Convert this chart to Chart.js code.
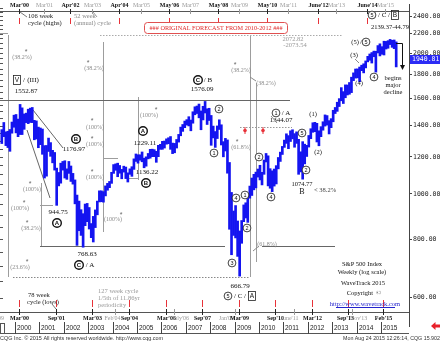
<!DOCTYPE html>
<html>
<head>
<meta charset="utf-8">
<script src="https://cdn.jsdelivr.net/npm/chart.js@4.4.0/dist/chart.umd.min.js"></script>
<style>
html, body { margin: 0; padding: 0; background: #fff; overflow: hidden; }
</style>
</head>
<body>
<canvas id="spx" width="440" height="342"></canvas>
<script>
// S&P 500 weekly, shown as monthly high/low ranges
const startYear = 1999;
const startMonth = 6; // June 1999

const monthLow = [
  1281, 1325, 1268, 1256, 1233, 1348, 1388,
  1350, 1325, 1339, 1339, 1374, 1420, 1413, 1421, 1420, 1305, 1310, 1255,
  1274, 1215, 1081, 1091, 1232, 1203, 1165, 1124, 945, 1040, 1054, 1124,
  1081, 1074, 1106, 1063, 1049, 952, 776, 834, 815, 769, 855, 872,
  841, 806, 789, 847, 902, 961, 962, 960, 990, 1018, 1031, 1053,
  1106, 1123, 1088, 1107, 1077, 1113, 1078, 1060, 1101, 1090, 1128, 1173,
  1163, 1180, 1171, 1137, 1146, 1188, 1192, 1201, 1201, 1168, 1201, 1245,
  1245, 1253, 1277, 1280, 1245, 1219, 1224, 1253, 1290, 1331, 1360, 1385,
  1403, 1397, 1364, 1416, 1476, 1485, 1454, 1371, 1439, 1489, 1407, 1435,
  1270, 1317, 1257, 1313, 1373, 1272, 1200, 1235, 1107, 840, 741, 815,
  805, 735, 667, 784, 872, 888, 869, 979, 992, 1020, 1030, 1086,
  1071, 1045, 1101, 1170, 1040, 1028, 1011, 1039, 1050, 1131, 1173, 1214,
  1257, 1282, 1249, 1294, 1311, 1258, 1282, 1101, 1114, 1075, 1159, 1202,
  1259, 1312, 1354, 1358, 1291, 1267, 1325, 1368, 1396, 1403, 1343, 1385,
  1426, 1485, 1501, 1537, 1581, 1560, 1605, 1627, 1633, 1646, 1746, 1768,
  1770, 1737, 1834, 1814, 1859, 1915, 1930, 1904, 1964, 1821, 2001, 1972,
  1988, 1981, 2040, 2048, 2085, 2057, 2044, 1868
];
const monthHigh = [
  1372, 1421, 1357, 1361, 1373, 1424, 1473,
  1478, 1445, 1553, 1527, 1482, 1488, 1517, 1525, 1530, 1436, 1432, 1389,
  1383, 1376, 1268, 1269, 1316, 1287, 1239, 1226, 1135, 1111, 1163, 1173,
  1177, 1131, 1173, 1147, 1106, 1071, 994, 965, 925, 907, 951, 954,
  935, 864, 895, 924, 965, 1015, 1015, 1011, 1040, 1053, 1063, 1112,
  1155, 1159, 1163, 1150, 1128, 1146, 1141, 1109, 1131, 1143, 1188, 1217,
  1212, 1212, 1229, 1192, 1200, 1220, 1245, 1246, 1243, 1233, 1270, 1276,
  1295, 1297, 1311, 1318, 1326, 1284, 1282, 1307, 1340, 1389, 1407, 1431,
  1441, 1462, 1438, 1498, 1535, 1541, 1556, 1504, 1539, 1576, 1520, 1524,
  1471, 1396, 1359, 1397, 1440, 1405, 1293, 1314, 1304, 1167, 1007, 919,
  944, 875, 833, 877, 947, 957, 996, 1039, 1081, 1101, 1113, 1130,
  1151, 1112, 1181, 1220, 1206, 1132, 1120, 1130, 1149, 1196, 1228, 1263,
  1303, 1344, 1332, 1364, 1371, 1345, 1357, 1308, 1230, 1293, 1277, 1270,
  1333, 1378, 1419, 1422, 1415, 1364, 1392, 1426, 1475, 1470, 1434, 1448,
  1509, 1530, 1570, 1598, 1687, 1654, 1710, 1709, 1730, 1776, 1814, 1849,
  1850, 1867, 1884, 1897, 1924, 1968, 1991, 2005, 2019, 2018, 2075, 2093,
  2064, 2120, 2118, 2126, 2139, 2130, 2133, 2113
];
const lastClose = 1940.81;

const priceTicks = [600, 800, 1000, 1200, 1400, 1600, 1800, 2000, 2200, 2400];
const yearLabels = [2000, 2001, 2002, 2003, 2004, 2005, 2006, 2007, 2008, 2009, 2010, 2011, 2012, 2013, 2014, 2015];

// cycle dates along the top (highs) and bottom (lows); main = red marker
const topCycleDates = [2000.17, 2001.17, 2002.25, 2003.17, 2004.25, 2005.17, 2006.33, 2007.17, 2008.33, 2009.17, 2010.33, 2011.17, 2012.42, 2013.17, 2014.42, 2015.17];
const topCycleLabels = ["Mar'00", "Mar'01", "Apr'02", "Mar'03", "Apr'04", "Mar'05", "May'06", "Mar'07", "May'08", "Mar'09", "May'10", "Mar'11", "June'12", "Mar'13", "June'14", "Mar'15"];
const topCycleMain = [1, 0, 1, 0, 1, 0, 1, 0, 1, 0, 1, 0, 1, 0, 1, 0];

const bottomCycleDates = [1999.17, 2000.17, 2001.67, 2003.17, 2004.08, 2004.67, 2006.17, 2006.5, 2007.67, 2009.0, 2009.17, 2010.67, 2011.42, 2012.17, 2013.67, 2013.83, 2015.08];
const bottomCycleLabels = ["Mar'99", "Mar'00", "Sep'01", "Mar'03", "Feb'04", "Sep'04", "Mar'06", "July'06", "Sep'07", "Jan'09", "Mar'09", "Sep'10", "June'11", "Mar'12", "Sep'13", "Nov'13", "Feb'15"];
const bottomCycleMain = [0, 1, 1, 1, 0, 1, 1, 0, 1, 0, 1, 1, 0, 1, 1, 0, 1];

const bars = monthLow.map((lo, i) => ({
  x: startYear + (startMonth - 1 + i + 0.5) / 12,
  y: [lo, monthHigh[i]]
}));

const SERIF = '"Liberation Serif", "DejaVu Serif", serif';
const SANS = '"Liberation Sans", Arial, sans-serif';
const MONO = '"DejaVu Sans Mono", monospace';

function txt(ctx, s, x, y, size, color, align, fam, weight) {
  ctx.font = (weight || 'normal') + ' ' + size + 'px ' + (fam || SERIF);
  ctx.fillStyle = color || '#111';
  ctx.textAlign = align || 'center';
  ctx.textBaseline = 'middle';
  ctx.fillText(s, x, y);
}

function fitText(ctx, s, x, y, w, size, color, align, fam, weight) {
  ctx.font = (weight || 'normal') + ' ' + size + 'px ' + (fam || SERIF);
  const m = ctx.measureText(s).width;
  ctx.save();
  ctx.translate(x, y);
  ctx.scale(w / m, 1);
  ctx.fillStyle = color || '#111';
  ctx.textAlign = align || 'center';
  ctx.textBaseline = 'middle';
  ctx.fillText(s, 0, 0);
  ctx.restore();
}

function line(ctx, x1, y1, x2, y2, color, w, dash) {
  ctx.save();
  ctx.beginPath();
  ctx.strokeStyle = color;
  ctx.lineWidth = w || 1;
  ctx.setLineDash(dash || []);
  ctx.moveTo(x1, y1);
  ctx.lineTo(x2, y2);
  ctx.stroke();
  ctx.restore();
}

function circ(ctx, x, y, s, bold) {
  ctx.beginPath();
  ctx.arc(x, y, bold ? 4.3 : 3.9, 0, Math.PI * 2);
  ctx.fillStyle = '#fff';
  ctx.fill();
  ctx.lineWidth = bold ? 1.4 : 0.8;
  ctx.strokeStyle = '#111';
  ctx.stroke();
  txt(ctx, s, x, y + 0.4, bold ? 6 : 5.5, '#111', 'center', SANS, bold ? 'bold' : 'normal');
}

function boxed(ctx, x, y, s) {
  ctx.lineWidth = 0.8;
  ctx.strokeStyle = '#222';
  ctx.strokeRect(x - 3.5, y - 4.5, 7, 9);
  txt(ctx, s, x, y + 0.3, 6.5, '#111', 'center', SANS);
}

const overlay = {
  id: 'overlay',
  beforeDatasetsDraw(chart) {
    const ctx = chart.ctx;
    const ys = chart.scales.y;
    const G = '#9d9d9d', D = '#666';
    // left edge ruler
    for (let p = 600; p <= 2500; p += 50) {
      const y = Math.round(ys.getPixelForValue(p)) + 0.5;
      line(ctx, 0, y, 3, y, '#555', 1);
    }
    // vertical guide lines
    line(ctx, 8.5, 35, 8.5, 277, G);
    line(ctx, 41.5, 183, 41.5, 246, G);
    line(ctx, 103.5, 42, 103.5, 232, G);
    line(ctx, 138.5, 97, 138.5, 180, G);
    line(ctx, 250.5, 35, 250.5, 277, G);
    line(ctx, 256.5, 83, 256.5, 262, G);
    // horizontal level lines
    line(ctx, 0, 100.5, 290, 100.5, D);
    line(ctx, 40, 246.5, 225, 246.5, D);
    line(ctx, 262, 246.5, 335, 246.5, D);
    line(ctx, 13, 277.5, 250, 277.5, '#888', 1, [1.5, 1.5]);
    line(ctx, 100, 35.5, 343, 35.5, '#aaa', 1, [1.5, 1.5]);
    line(ctx, 240, 127.5, 292, 127.5, '#999', 1, [1.5, 1.5]);
    line(ctx, 0, 33.5, 8, 33.5, G);
    line(ctx, 103, 158.5, 118, 158.5, G);
    line(ctx, 128, 178.5, 138, 178.5, G);
    line(ctx, 40, 205.5, 53, 205.5, G);
    // diagonals from the 2000 top
    line(ctx, 33, 110, 63, 148, D);
    line(ctx, 27, 130, 50, 198, D);
  },
  afterDraw(chart) {
    const ctx = chart.ctx;
    const xs = chart.scales.x, ys = chart.scales.y;
    const area = chart.chartArea;
    const G = '#8a8a8a';

    // ---- top cycle strip
    line(ctx, 0, 11.5, area.right, 11.5, '#555');
    topCycleDates.forEach((t, i) => {
      const x = Math.round(xs.getPixelForValue(t)) + 0.5;
      const main = topCycleMain[i];
      line(ctx, x, 9, x, 14, main ? '#222' : '#999');
      txt(ctx, topCycleLabels[i], x, 5.5, 6, main ? '#111' : '#999', 'center', SERIF, main ? 'bold' : 'normal');
      if (main) line(ctx, x, 18, x, 24, '#e8333a', 1);
    });
    line(ctx, 20, 12, 27, 17, '#777');
    line(ctx, 93, 12, 97, 17, '#999');
    txt(ctx, '106 week', 28, 16.5, 6.5, '#222', 'left');
    txt(ctx, 'cycle (highs)', 28, 23.5, 6.5, '#222', 'left');
    txt(ctx, '52 week', 74, 16.5, 6.5, '#888', 'left');
    txt(ctx, '(annual) cycle', 74, 23.5, 6.5, '#888', 'left');

    // red forecast box
    ctx.beginPath();
    ctx.roundRect(144.5, 22.5, 143, 11, 3);
    ctx.fillStyle = '#fff';
    ctx.fill();
    ctx.lineWidth = 1;
    ctx.strokeStyle = '#e05050';
    ctx.stroke();
    fitText(ctx, '### ORIGINAL FORECAST FROM 2010-2012 ###', 216, 28.3, 133, 6.5, '#e02a2a', 'center', SERIF);

    // ---- bottom cycle strip
    line(ctx, 0, area.bottom + 0.5, area.right, area.bottom + 0.5, '#555');
    const shift = { "Feb'04": -3, "July'06": 6, "Jan'09": -9, "June'11": -5, "Sep'13": -3, "Nov'13": 6 };
    bottomCycleDates.forEach((t, i) => {
      const x = Math.round(xs.getPixelForValue(t)) + 0.5;
      const main = bottomCycleMain[i];
      const lab = bottomCycleLabels[i];
      line(ctx, x, area.bottom - 3, x, area.bottom + 3, main ? '#222' : '#999');
      txt(ctx, lab, x + (shift[lab] || 0), area.bottom + 6.5, 6, main ? '#111' : '#999', 'center', SERIF, main ? 'bold' : 'normal');
      if (main) line(ctx, x, area.bottom - 12, x, area.bottom - 5, '#e8333a', 1);
    });
    txt(ctx, '78 week', 28, 295, 6.5, '#222', 'left');
    txt(ctx, 'cycle (lows)', 27, 302, 6.5, '#222', 'left');
    line(ctx, 52, 304, 56, 309, '#777');
    txt(ctx, '127 week cycle', 98, 291, 6.5, '#999', 'left');
    txt(ctx, '1/5th of 11.86yr', 98, 298, 6.5, '#999', 'left');
    txt(ctx, 'periodicity', 98, 305, 6.5, '#999', 'left');

    // ---- year strip
    line(ctx, 0, 333.5, area.right, 333.5, '#555');
    ctx.strokeStyle = '#555';
    ctx.lineWidth = 1;
    ctx.strokeRect(0.5, 323.5, 4, 10);
    yearLabels.forEach(yr => {
      const x = Math.round(xs.getPixelForValue(yr)) + 0.5;
      line(ctx, x, 322, x, 334, '#444');
      txt(ctx, String(yr), x + 1.5, 328.5, 6.5, '#222', 'left', SANS);
    });
    line(ctx, area.right + 0.5, area.bottom, area.right + 0.5, 327, '#444');

    // ---- last price box
    const yl = ys.getPixelForValue(lastClose);
    ctx.fillStyle = '#2b2bf5';
    ctx.fillRect(area.right + 1, Math.round(yl) - 4, 440 - area.right, 9);
    txt(ctx, lastClose.toFixed(2), area.right + 3, Math.round(yl) + 0.5, 6.5, '#fff', 'left', MONO);

    // ---- footer
    fitText(ctx, 'CQG Inc. \u00a9 2015 All rights reserved worldwide. http://www.cqg.com', 0, 338, 163, 6, '#333', 'left', SANS);
    fitText(ctx, 'Mon Aug 24 2015 12:26:14, CQG 15.902', 440, 338, 97, 6, '#333', 'right', SANS);
    ctx.beginPath();
    ctx.moveTo(431, 326);
    ctx.lineTo(435.5, 322);
    ctx.lineTo(435.5, 324.5);
    ctx.lineTo(440, 324.5);
    ctx.lineTo(440, 327.5);
    ctx.lineTo(435.5, 327.5);
    ctx.lineTo(435.5, 330);
    ctx.closePath();
    ctx.fillStyle = '#e8202a';
    ctx.fill();

    // ---- retracement / projection percentages
    const pct = [
      ['(38.2%)', 22, 57, 26, 51], ['(38.2%)', 94, 68, 88, 62], ['(38.2%)', 241, 70, 235, 64],
      ['(38.2%)', 266, 83], ['(100%)', 149, 115, 156, 109], ['(100%)', 95, 127, 92, 120],
      ['(100%)', 95, 144, 92, 138], ['(100%)', 95, 177, 92, 171], ['(100%)', 32, 189, 30, 183],
      ['(100%)', 20, 208, 24, 202], ['(100%)', 113, 219, 121, 214], ['(38.2%)', 31, 228, 27, 222],
      ['(23.6%)', 20, 267, 27, 261], ['(61.8%)', 241, 147, 237, 141], ['(61.8%)', 267, 244]
    ];
    pct.forEach(p => {
      txt(ctx, p[0], p[1], p[2], 6, '#8a8a8a');
      if (p.length > 3) txt(ctx, '*', p[3], p[4] + 1.5, 7, '#666', 'center', SANS);
    });
    line(ctx, 250, 77, 256, 81, G);
    line(ctx, 253, 251, 259, 246, G);

    // red markers on the 1344 projection line
    [245, 263].forEach(x => {
      ctx.beginPath();
      ctx.arc(x, 130.5, 1.8, 0, Math.PI * 2);
      ctx.fillStyle = '#e8333a';
      ctx.fill();
      line(ctx, x, 127, x, 134, '#e8333a');
    });

    // ---- wave labels
    boxed(ctx, 17, 80, 'V');
    txt(ctx, '/', 24, 80, 7);
    txt(ctx, '(III)', 33, 80, 7);
    txt(ctx, '1552.87', 26, 91, 7);

    circ(ctx, 76, 139, 'B', true);
    txt(ctx, '1176.97', 74, 149, 7);
    txt(ctx, '944.75', 58, 212, 7);
    circ(ctx, 57, 223, 'A', true);
    txt(ctx, '768.63', 87, 254, 7);
    circ(ctx, 79, 265, 'C', true);
    txt(ctx, '/ A', 90, 265, 7);

    circ(ctx, 143, 131, 'A', true);
    txt(ctx, '1229.11', 145, 143, 7);
    txt(ctx, '1136.22', 147, 172, 7);
    circ(ctx, 146, 183, 'B', true);

    circ(ctx, 198, 80, 'C', true);
    txt(ctx, '/ B', 208, 80, 7);
    txt(ctx, '1576.09', 202, 89, 7);

    circ(ctx, 214, 153, '1');
    circ(ctx, 219, 109, '2');
    circ(ctx, 232, 263, '3');
    circ(ctx, 236, 198, '4');
    circ(ctx, 245, 195, '1');
    circ(ctx, 247, 228, '2');

    txt(ctx, '666.79', 240, 286, 7);
    circ(ctx, 228, 296, '5');
    txt(ctx, '/ C /', 240, 296, 7);
    boxed(ctx, 252, 296, 'A');

    circ(ctx, 276, 113, '1');
    txt(ctx, '/ A', 286, 113, 7);
    txt(ctx, '1344.07', 281, 120, 7);
    line(ctx, 271, 116, 277, 123, G);
    circ(ctx, 259, 157, '2');
    circ(ctx, 271, 197, '4');
    circ(ctx, 302, 133, '5');
    circ(ctx, 306, 170, '2');

    txt(ctx, '(1)', 313, 114, 6.5);
    txt(ctx, '(2)', 318, 152, 6.5);
    txt(ctx, '1074.77', 302, 184, 6.5);
    txt(ctx, 'B', 302, 192, 8);
    txt(ctx, '< 38.2%', 325, 190, 6.5, '#444');

    txt(ctx, '(3)', 354, 55, 6.5);
    line(ctx, 355, 59, 359, 63, G);
    txt(ctx, '(4)', 359, 83, 6.5);
    txt(ctx, '(5)', 355, 42, 6.5);
    txt(ctx, '/', 361, 42, 6.5);
    circ(ctx, 366, 42, '5');
    circ(ctx, 374, 77, '4');

    txt(ctx, '2072.82', 293, 39, 6.5, '#999');
    txt(ctx, '-2073.54', 295, 45, 6.5, '#999');

    circ(ctx, 372, 15, '5');
    txt(ctx, '/ C /', 384, 15, 7);
    boxed(ctx, 395, 15, 'B');
    txt(ctx, '2139.37-44.79', 390, 27, 6.5);

    txt(ctx, 'begins', 393, 78, 6.5);
    txt(ctx, 'major', 393, 85, 6.5);
    txt(ctx, 'decline', 393, 92, 6.5);
    line(ctx, 396, 43.5, 402.5, 43.5, '#111');
    line(ctx, 402.5, 43.5, 402.5, 67, '#111');
    ctx.beginPath();
    ctx.moveTo(400, 65);
    ctx.lineTo(405, 65);
    ctx.lineTo(402.5, 70);
    ctx.closePath();
    ctx.fillStyle = '#111';
    ctx.fill();

    // ---- chart credits
    txt(ctx, 'S&P 500 Index', 362, 264, 6.5);
    txt(ctx, 'Weekly (log scale)', 362, 272, 6.5);
    txt(ctx, 'WaveTrack 2015', 363, 283, 6.5);
    txt(ctx, 'Copyright  \u00a9', 364, 293, 6.5);
    txt(ctx, 'http://www.wavetrack.com', 365, 304, 6.5, '#2222cc');
    line(ctx, 336, 307.5, 395, 307.5, '#2222cc');
  }
};

new Chart(document.getElementById('spx'), {
  type: 'bar',
  data: {
    datasets: [{
      data: bars,
      backgroundColor: '#1414f0',
      borderWidth: 0,
      barThickness: 2,
      grouped: false
    }]
  },
  options: {
    responsive: false,
    animation: false,
    layout: { padding: { left: 0, top: 0, right: 0, bottom: 30 } },
    plugins: { legend: { display: false }, tooltip: { enabled: false } },
    scales: {
      x: { type: 'linear', min: 1999.385, max: 2016.15, offset: false, display: false },
      y: {
        type: 'logarithmic',
        position: 'right',
        min: 559,
        max: 2535,
        afterBuildTicks: s => { s.ticks = priceTicks.map(v => ({ value: v })); },
        afterFit: s => { s.width = 31; },
        grid: { drawOnChartArea: false, tickLength: 3, color: '#444' },
        border: { color: '#444' },
        ticks: {
          padding: 1,
          color: '#222',
          font: { family: 'DejaVu Sans Mono', size: 6.5 },
          callback: v => Number(v).toFixed(2)
        }
      }
    }
  },
  plugins: [overlay]
});
</script>
</body>
</html>
